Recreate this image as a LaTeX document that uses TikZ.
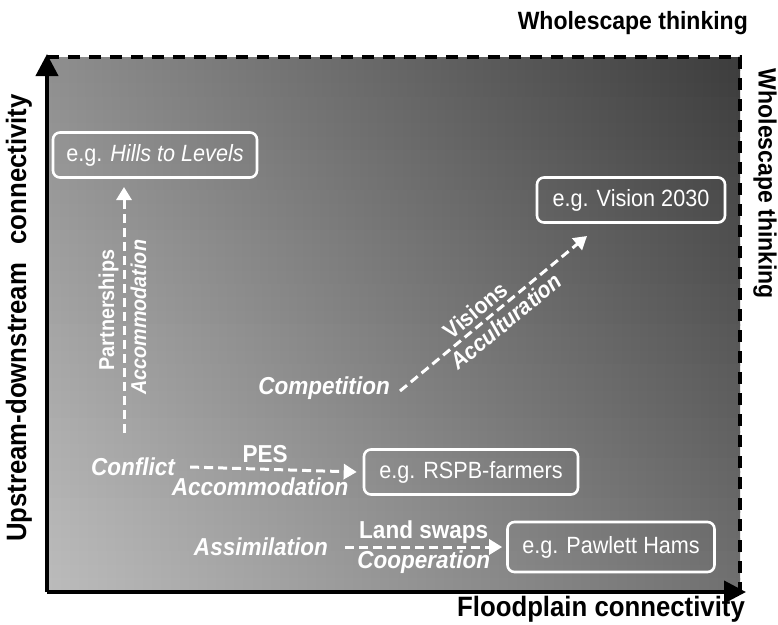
\documentclass[tikz,border=0pt]{standalone}
\usepackage{fontspec}
\setmainfont[FakeStretch=0.92]{Liberation Sans}
\usetikzlibrary{arrows.meta}
\begin{document}
\begin{tikzpicture}[x=1pt,y=-1pt,
  axisline/.style={line width=4pt,-{Triangle[length=22pt,width=22pt]}},
  frameline/.style={line width=4pt,dash pattern=on 12pt off 9pt},
  ebox/.style={draw=white,line width=2.6pt,rounded corners=7pt,text=white,
    font=\fontsize{23.5}{27}\selectfont,inner sep=2pt,minimum height=45pt},
  lab/.style={text=white,font=\fontsize{24.5}{27}\selectfont\bfseries\itshape,inner sep=1pt},
  labn/.style={text=white,font=\fontsize{24.5}{27}\selectfont\bfseries,inner sep=1pt},
  vlab/.style={text=white,font=\fontsize{21.5}{24}\selectfont\bfseries\itshape,inner sep=1pt},
  vlabn/.style={text=white,font=\fontsize{21.5}{24}\selectfont\bfseries,inner sep=1pt},
  dlab/.style={text=white,font=\fontsize{23}{26}\selectfont\bfseries\itshape,inner sep=1pt},
  dlabn/.style={text=white,font=\fontsize{23}{26}\selectfont\bfseries,inner sep=1pt},
  flow/.style={draw=white,line width=3pt,dash pattern=on 9pt off 5pt,
    -{Triangle[length=13pt,width=15pt]}},
  ttl/.style={text=black,font=\fontsize{25}{28}\selectfont\bfseries,inner sep=0pt},
  axl/.style={text=black,font=\fontsize{28}{31}\selectfont\bfseries,inner sep=0pt}]
\useasboundingbox (0,0) rectangle (778,624);
% background: diagonal grey gradient built from horizontal strips
\foreach \i in {0,...,39}{
  \pgfmathsetmacro{\vv}{1-(\i+0.5)/40}
  \pgfmathtruncatemacro{\gl}{round(188-46*\vv)}
  \pgfmathtruncatemacro{\gr}{round(112-52*\vv)}
  \pgfmathsetmacro{\ytop}{57+\i*13.375}
  \pgfmathsetmacro{\ybot}{min(592,57+(\i+1)*13.375+0.6)}
  \definecolor{stripl}{RGB}{\gl,\gl,\gl}
  \definecolor{stripr}{RGB}{\gr,\gr,\gr}
  \shade[left color=stripl,right color=stripr] (47,\ytop) rectangle (740,\ybot);
}
% frame
\coordinate (tl) at (47,57);
\coordinate (tr) at (740,57);
\coordinate (br) at (740,592);
\coordinate (bl) at (47,592);
\coordinate (ytip) at (47,54);
\coordinate (xtip) at (746,592);
\draw[frameline] (tl) -- (tr) -- (br);
\draw[axisline] (bl) -- (ytip);
\draw[axisline] (bl) -- (xtip);
% titles
\node[ttl,anchor=east] (wtop) at (748,23) {Wholescape thinking};
\node[ttl,rotate=-90] (wright) at (765,184) {Wholescape thinking};
\node[axl,rotate=90] (ylab) at (19,318) {Upstream-downstream\hspace{0.4em} connectivity};
\node[axl,anchor=east] (xlab) at (745,609) {Floodplain connectivity};
% boxes
\node[ebox,minimum width=204pt] (hills) at (155,155) {e.g. \textit{Hills to Levels}};
\node[ebox,minimum width=188pt] (vision) at (631,200) {e.g. Vision 2030};
\node[ebox,minimum width=214pt] (rspb) at (471,472) {e.g. RSPB-farmers};
\node[ebox,minimum width=207pt,minimum height=50pt] (pawlett) at (611,547) {e.g. Pawlett Hams};
% labels
\node[lab,anchor=east] (compet) at (391,388) {Competition};
\node[lab] (conflict) at (133,467) {Conflict};
\node[lab] (assim) at (261,547) {Assimilation};
\coordinate (pstart) at (124,433);
\coordinate (ptip) at (124,187);
\coordinate (vstart) at (400,391);
\coordinate (vtip) at (587,236);
% connectors
\draw[flow] (pstart) -- (ptip)
  node[vlabn,pos=0.5,sloped,above=3pt] {Partnerships}
  node[vlab,pos=0.47,sloped,below=4pt] {Accommodation};
\draw[flow] (vstart) -- (vtip)
  node[dlabn,pos=0.45,sloped,above=3pt] {Visions}
  node[dlab,pos=0.52,sloped,below=3pt] {Acculturation};
\draw[flow] ([xshift=14pt]conflict.east) -- ([xshift=-6pt]rspb.west)
  node[labn,pos=0.45,above=4pt] {PES}
  node[lab,pos=0.42,below=6pt] {Accommodation};
\draw[flow] ([xshift=16pt]assim.east) -- ([xshift=-4pt]pawlett.west)
  node[labn,pos=0.5,above=1pt] {Land swaps}
  node[lab,pos=0.5,below=1pt] {Cooperation};
\end{tikzpicture}
\end{document}
